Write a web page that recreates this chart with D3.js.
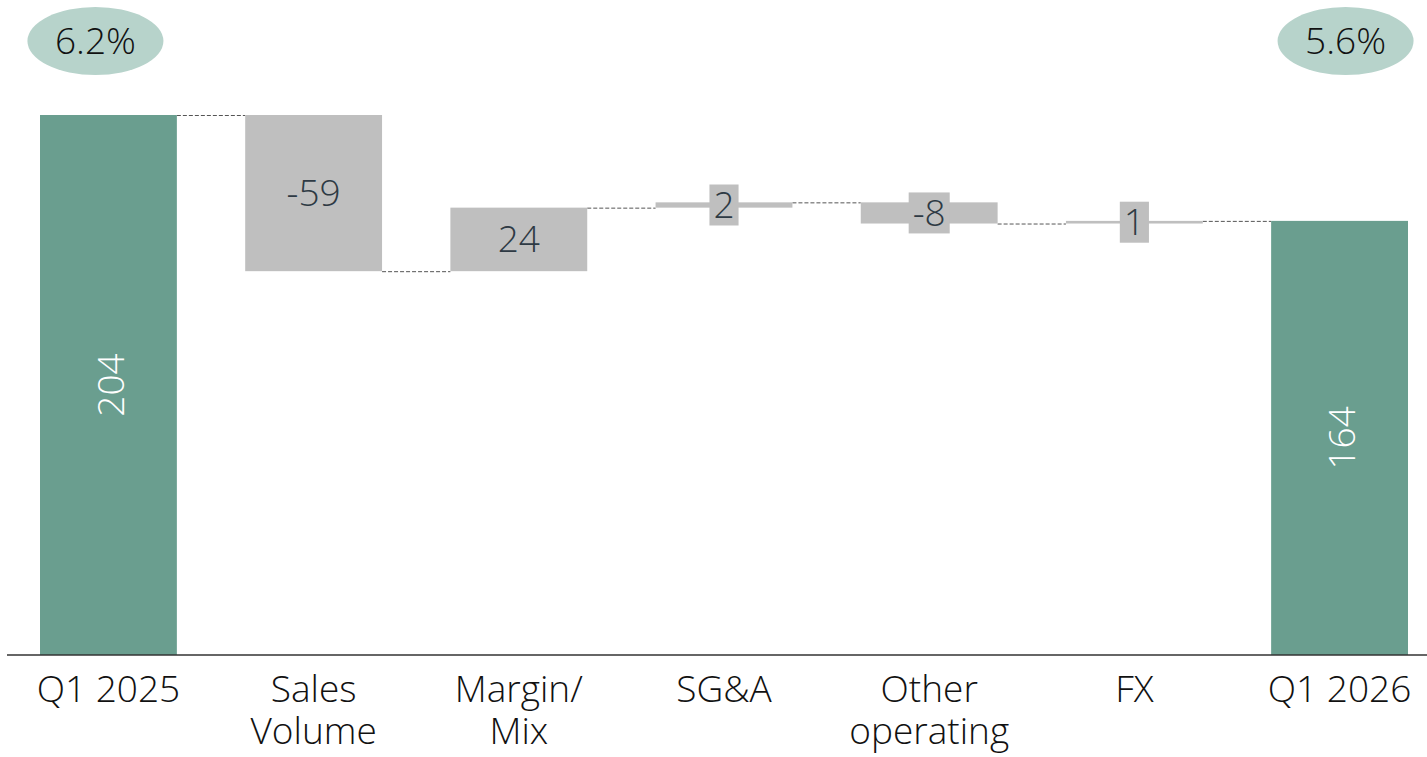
<!DOCTYPE html>
<html>
<head>
<meta charset="utf-8">
<script src="https://cdn.jsdelivr.net/npm/d3@7"></script>
<style>
  html, body { margin: 0; padding: 0; background: #fff; }
  svg { display: block; }
  text { font-family: "Open Sans", "Noto Sans", sans-serif; font-weight: 300; }
</style>
</head>
<body>
<svg id="chart" width="1427" height="757"></svg>
<script>
// EBIT bridge, Q1 2025 -> Q1 2026
const categories = ["Q1 2025", "Sales Volume", "Margin/Mix", "SG&A", "Other operating", "FX", "Q1 2026"];
const categoryLines = [["Q1 2025"], ["Sales", "Volume"], ["Margin/", "Mix"], ["SG&A"], ["Other", "operating"], ["FX"], ["Q1 2026"]];
const values = [204, -59, 24, 2, -8, 1, 164];
const kinds = ["total", "delta", "delta", "delta", "delta", "delta", "total"];
const marginLabels = ["6.2%", "", "", "", "", "", "5.6%"];

const W = 1427, H = 757;
const baseY = 655;
const colors = { total: "#6a9e8f", delta: "#bfbfbf", bubble: "#b7d3cb", text: "#2e3a44" };
const fontSize = 37;
const lineGap = 42;

const svg = d3.select("#chart");

const x = d3.scaleBand()
  .domain(categories)
  .range([40, 1408])
  .paddingInner(0.333)
  .paddingOuter(0);

const y = d3.scaleLinear()
  .domain([0, 204])
  .range([baseY, 115]);

// running totals -> bar extents
let running = 0;
const bars = categories.map((c, i) => {
  let lo, hi, end;
  if (kinds[i] === "total") {
    lo = 0; hi = values[i]; end = values[i];
  } else {
    const start = running;
    end = running + values[i];
    lo = Math.min(start, end); hi = Math.max(start, end);
  }
  running = end;
  return { cat: c, value: values[i], kind: kinds[i], lo, hi, end,
           lines: categoryLines[i], margin: marginLabels[i] };
});

// connectors between consecutive bars
const conn = svg.append("g");
bars.slice(0, -1).forEach((b, i) => {
  const next = bars[i + 1];
  conn.append("line")
    .attr("x1", x(b.cat) + x.bandwidth())
    .attr("x2", x(next.cat))
    .attr("y1", y(b.end) + 0.5)
    .attr("y2", y(b.end) + 0.5)
    .attr("stroke", "#555")
    .attr("stroke-width", 1)
    .attr("stroke-dasharray", "4,2");
});

// bars
svg.append("g").selectAll("rect")
  .data(bars)
  .join("rect")
  .attr("x", d => x(d.cat))
  .attr("width", x.bandwidth())
  .attr("y", d => y(d.hi))
  .attr("height", d => Math.max(1, y(d.lo) - y(d.hi)))
  .attr("fill", d => colors[d.kind]);

// value labels
const labels = svg.append("g");
bars.forEach(b => {
  const cx = x(b.cat) + x.bandwidth() / 2;
  const cy = (y(b.lo) + y(b.hi)) / 2;
  if (b.kind === "total") {
    labels.append("text")
      .attr("transform", `translate(${cx + 1},${cy}) rotate(-90)`)
      .attr("text-anchor", "middle")
      .attr("dominant-baseline", "central")
      .attr("font-size", fontSize)
      .attr("fill", "#fff")
      .text(b.value);
  } else {
    const g = labels.append("g");
    const t = g.append("text")
      .attr("x", cx)
      .attr("y", cy + fontSize * 0.34)
      .attr("text-anchor", "middle")
      .attr("font-size", fontSize)
      .attr("fill", colors.text)
      .text(b.value);
    const barH = y(b.lo) - y(b.hi);
    const boxH = 41;
    if (barH < boxH) {
      const bw = t.node().getBBox().width + 8;
      g.insert("rect", "text")
        .attr("x", cx - bw / 2)
        .attr("y", cy - boxH / 2)
        .attr("width", bw)
        .attr("height", boxH)
        .attr("fill", colors.delta);
    }
  }
});

// margin bubbles
bars.filter(b => b.margin).forEach((b, k) => {
  const cx = x(b.cat) + x.bandwidth() / 2 + (k === 0 ? -13 : 6);
  const g = svg.append("g");
  g.append("ellipse")
    .attr("cx", cx).attr("cy", 41)
    .attr("rx", 68).attr("ry", 34)
    .attr("fill", colors.bubble);
  g.append("text")
    .attr("x", cx).attr("y", 41 + fontSize * 0.36)
    .attr("text-anchor", "middle")
    .attr("font-size", fontSize)
    .attr("fill", "#111")
    .text(b.margin);
});

// baseline
svg.append("line")
  .attr("x1", 7).attr("x2", W)
  .attr("y1", baseY).attr("y2", baseY)
  .attr("stroke", "#333")
  .attr("stroke-width", 1.5);

// category labels
const cl = svg.append("g");
bars.forEach(b => {
  const t = cl.append("text")
    .attr("text-anchor", "middle")
    .attr("font-size", fontSize)
    .attr("fill", "#111");
  b.lines.forEach((line, k) => {
    t.append("tspan")
      .attr("x", x(b.cat) + x.bandwidth() / 2)
      .attr("y", 702 + k * lineGap)
      .text(line);
  });
});
</script>
</body>
</html>
